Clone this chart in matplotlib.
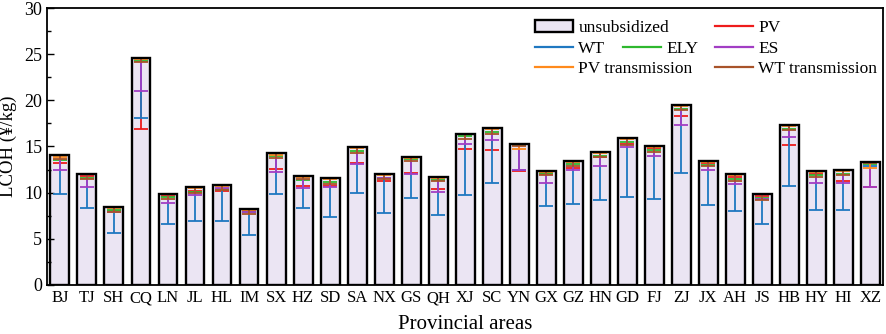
import numpy as np
import matplotlib
matplotlib.use('Agg')
import matplotlib.pyplot as plt
from matplotlib.ticker import MultipleLocator
from matplotlib.patches import Patch
from matplotlib.lines import Line2D

plt.rcParams['font.family'] = ['Liberation Serif', 'DejaVu Serif']

# provincial areas and unsubsidized LCOH (yuan/kg)
areas = ['BJ', 'TJ', 'SH', 'CQ', 'LN', 'JL', 'HL', 'IM', 'SX', 'HZ', 'SD',
         'SA', 'NX', 'GS', 'QH', 'XJ', 'SC', 'YN', 'GX', 'GZ', 'HN', 'GD',
         'FJ', 'ZJ', 'JX', 'AH', 'JS', 'HB', 'HY', 'HI', 'XZ']
lcoh = [14.1, 12.05, 8.45, 24.6, 9.88, 10.6, 10.83, 8.2, 14.27, 11.84, 11.56,
        14.95, 11.99, 13.83, 11.7, 16.4, 16.98, 15.3, 12.38, 13.47, 14.4, 15.89,
        15.06, 19.53, 13.47, 11.99, 9.9, 17.37, 12.38, 12.46, 13.29]

# lowest LCOH reached by each subsidy
pv_low = [13.2, 11.85, 8.0, 16.9, 9.68, 10.2, 10.2, 8.0, 12.6, 10.7, 10.75,
          13.18, 11.3, 12.1, 10.4, 14.7, 14.6, 12.35, 12.0, 12.68, 13.9, 15.3,
          14.8, 18.3, 13.2, 11.7, 9.6, 15.2, 12.0, 11.27, 10.6]
wt_low = [9.86, 8.34, 5.65, 18.06, 6.6, 6.97, 6.9, 5.42, 9.83, 8.3, 7.37,
          9.93, 7.8, 9.43, 7.62, 9.75, 11.0, 12.4, 8.56, 8.8, 9.25, 9.53,
          9.35, 12.17, 8.67, 7.98, 6.57, 10.76, 8.09, 8.09, 12.93]
ely_low = [13.5, 11.6, 8.1, 24.3, 9.5, 10.1, 10.4, 7.9, 13.95, 11.35, 11.2,
           14.55, 11.63, 13.6, 11.4, 16.1, 16.58, 15.15, 12.1, 13.07, 14.0, 15.46,
           14.63, 19.1, 13.04, 11.48, 9.39, 16.94, 11.95, 12.06, 13.15]
es_low = [12.4, 10.6, 7.95, 21.0, 8.9, 9.75, 10.55, 7.85, 12.2, 10.5, 10.58,
          13.1, 11.55, 12.05, 10.1, 15.28, 15.75, 12.4, 11.05, 12.43, 12.93, 14.9,
          13.94, 17.3, 12.43, 10.98, 9.3, 16.07, 11.08, 11.02, 10.65]
pvt_low = [13.9, 12.0, 8.3, 24.45, 9.8, 10.5, 10.75, 8.1, 14.1, 11.7, 11.45,
           14.8, 11.9, 13.75, 11.6, 16.3, 16.85, 14.73, 12.28, 13.37, 14.3, 15.8,
           14.95, 19.4, 13.37, 11.88, 9.8, 17.25, 12.28, 12.36, 12.71]
wtt_low = [13.6, 11.5, 7.95, 24.15, 9.35, 10.0, 10.25, 7.66, 13.8, 11.45, 10.94,
           14.3, 11.48, 13.43, 11.27, 15.85, 16.4, 15.06, 11.9, 12.9, 13.83, 15.2,
           14.37, 18.96, 12.86, 11.3, 9.18, 16.76, 11.7, 11.88, 13.2]

series = [('PV', pv_low, '#ee1c1c'),
          ('WT', wt_low, '#1f78c1'),
          ('ELY', ely_low, '#2eb82e'),
          ('ES', es_low, '#a23ec4'),
          ('PV transmission', pvt_low, '#ff8a1c'),
          ('WT transmission', wtt_low, '#a8532a')]

x = np.arange(len(areas))
top = np.array(lcoh)
fill = '#ebe5f3'

fig, ax = plt.subplots(figsize=(8.86, 3.34), dpi=100)
fig.subplots_adjust(left=0.053, right=0.997, top=0.976, bottom=0.147)

ax.bar(x, top, width=0.7, color=fill, edgecolor='none', zorder=1)
handles = {}
for name, low, c in series:
    err = [top - np.array(low), np.zeros(len(x))]
    ax.errorbar(x, top, yerr=err, fmt='none', ecolor=c, elinewidth=1.3,
                capsize=5, capthick=1.3, zorder=2)
    handles[name] = Line2D([], [], color=c, lw=1.6)
ax.bar(x, top, width=0.7, fill=False, edgecolor='black', lw=1.7, zorder=3)

ax.set_xlim(-0.48, len(x) - 0.52)
ax.set_ylim(0, 30)
ax.set_xticks(x)
ax.set_xticklabels(areas)
ax.yaxis.set_major_locator(MultipleLocator(5))
ax.yaxis.set_minor_locator(MultipleLocator(2.5))
ax.tick_params(axis='x', length=0, labelsize=12, pad=4)
ax.tick_params(axis='y', which='major', direction='in', length=5, width=1, labelsize=13)
ax.tick_params(axis='y', which='minor', direction='in', length=3, width=1)
for s in ax.spines.values():
    s.set_linewidth(1.3)
ax.set_ylabel('LCOH (¥/kg)', fontsize=13.5, labelpad=5)
ax.set_xlabel('Provincial areas', fontsize=15, labelpad=6)

# legend laid out in three loose columns
kw = dict(frameon=False, fontsize=12.5, borderpad=0, borderaxespad=0,
          handlelength=2.2, handletextpad=0.3, labelspacing=0.25,
          loc='upper left', bbox_transform=fig.transFigure)
box = Patch(facecolor=fill, edgecolor='black', lw=1.7)
leg1 = ax.legend([box, handles['WT'], handles['PV transmission']],
                 ['unsubsidized', 'WT', 'PV transmission'],
                 bbox_to_anchor=(535 / 886, 1 - 20 / 334), **kw)
ax.add_artist(leg1)
leg2 = ax.legend([handles['ELY']], ['ELY'],
                 bbox_to_anchor=(623 / 886, 1 - 41 / 334), **kw)
ax.add_artist(leg2)
ax.legend([handles['PV'], handles['ES'], handles['WT transmission']],
          ['PV', 'ES', 'WT transmission'],
          bbox_to_anchor=(715 / 886, 1 - 20 / 334), **kw)

plt.savefig('out.png', dpi=100)
